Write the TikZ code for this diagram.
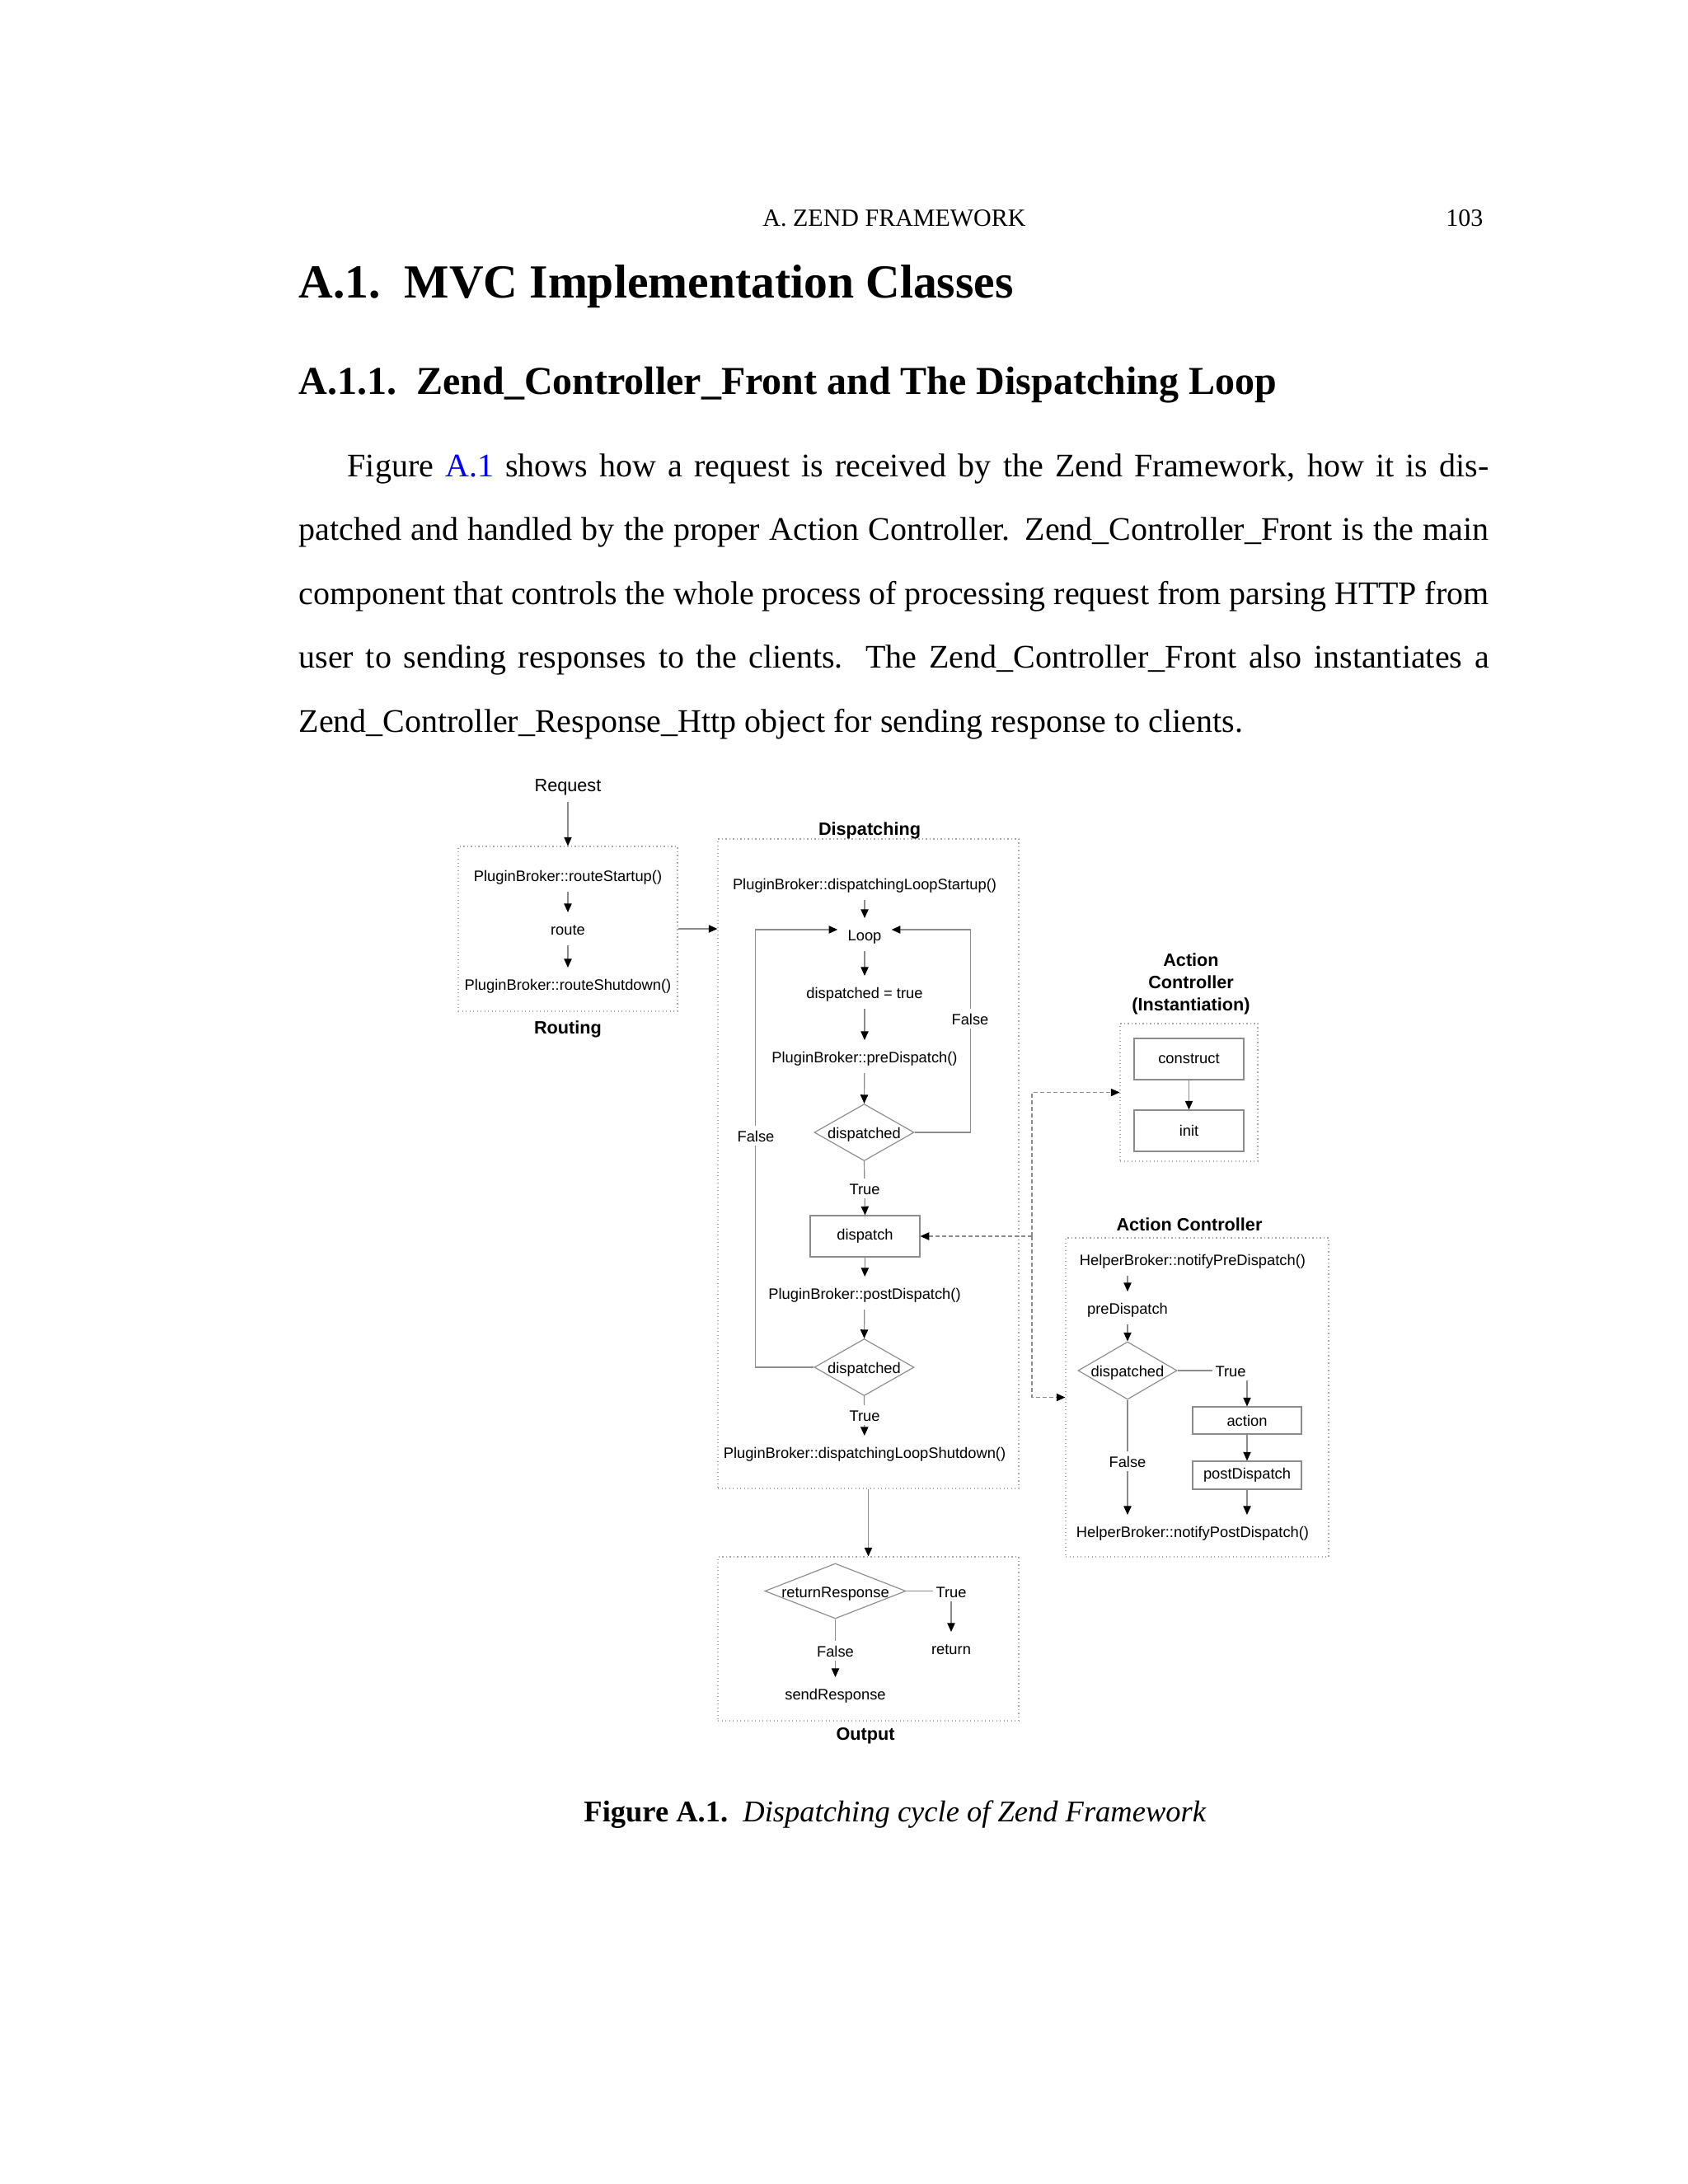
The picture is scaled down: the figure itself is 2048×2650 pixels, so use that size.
\documentclass[tikz,border=0pt]{standalone}
\usepackage{fontspec}
\setmainfont{Liberation Serif}
\newfontfamily\dsans{Liberation Sans}
\usetikzlibrary{arrows.meta,shapes.geometric}
\newdimen\pxu \pxu=0.3pt
\newcommand\dfont{\dsans\fontsize{5.5}{6.6}\selectfont}
\newcommand\dbfont{\dsans\bfseries\fontsize{6.5}{8}\selectfont}
\newcommand\dreq{\dsans\fontsize{6.5}{8}\selectfont}
\definecolor{lngray}{HTML}{8C8C8C}
\definecolor{grpgray}{HTML}{A8A8A8}
\definecolor{linkblue}{HTML}{0000FF}
\begin{document}
\begin{tikzpicture}[x=0.3pt,y=-0.3pt,
  txt/.style={font=\dfont, inner xsep=1pt, inner ysep=3.2pt, text height=4.9pt, text depth=0.3pt},
  lbl/.style={txt, fill=white, inner ysep=1pt},
  ttl/.style={font=\dbfont, align=center, inner sep=0pt},
  grp/.style={draw=grpgray, densely dotted, line width=0.35pt, inner sep=0pt},
  bx/.style={draw=lngray, line width=0.35pt, inner sep=0pt, font=\dfont},
  dia/.style={diamond, draw=lngray, line width=0.35pt, inner sep=0pt},
  ln/.style={draw=lngray, line width=0.35pt},
  arr/.style={ln, -{Triangle[length=3.2pt,width=2.8pt,color=black]}},
  dsh/.style={arr, dash pattern=on 1.5pt off 0.9pt},
  ptxt/.style={inner sep=0pt, anchor=base west, font=\fontsize{12}{14}\selectfont}
]
\fill[white] (0,0) rectangle (2048,2650);
\useasboundingbox (0,0) rectangle (2048,2650);

% ---------- page text ----------
\node[inner sep=0pt, anchor=base, font=\fontsize{9}{11}\selectfont] (hdr) at (1085,274) {A. ZEND FRAMEWORK};
\node[inner sep=0pt, anchor=base east, font=\fontsize{9}{11}\selectfont] (pg) at (1800,274) {103};
\node[inner sep=0pt, anchor=base west, font=\fontsize{17.28}{21}\selectfont\bfseries] (h1) at (362,361) {A.1.\enspace MVC Implementation Classes};
\node[inner sep=0pt, anchor=base west, font=\fontsize{14.4}{17}\selectfont\bfseries] (h2) at (362,478) {A.1.1.\enspace Zend\_Controller\_Front and The Dispatching Loop};
\node[ptxt] (p1) at (421,578) {\hbox to 415.5pt{Figure \textcolor{linkblue}{A.1} shows how a request is received by the Zend Framework, how it is dis-}};
\node[ptxt] (p2) at (362,655) {\hbox to 433.2pt{patched and handled by the proper Action Controller. Zend\_Controller\_Front is the main}};
\node[ptxt] (p3) at (362,733) {\hbox to 433.2pt{component that controls the whole process of processing request from parsing HTTP from}};
\node[ptxt] (p4) at (362,810) {\hbox to 433.2pt{user to sending responses to the clients. The Zend\_Controller\_Front also instantiates a}};
\node[ptxt] (p5) at (362,888) {Zend\_Controller\_Response\_Http object for sending response to clients.};
\node[inner sep=0pt, anchor=base, font=\fontsize{10.95}{13}\selectfont] (cap) at (1086,2210) {\textbf{Figure A.1.}\enspace\textit{Dispatching cycle of Zend Framework}};

% ---------- Routing ----------
\node[grp, minimum width=266\pxu, minimum height=200\pxu] (rt) at (689,1127) {};
\node[txt, font=\dreq] (req) at (689,953) {Request};
\node[txt] (rs) at (689,1062) {PluginBroker::routeStartup()};
\node[txt] (route) at (689,1127) {route};
\node[txt] (rsd) at (689,1194) {PluginBroker::routeShutdown()};
\node[ttl] (rtt) at (689,1249) {Routing};
\draw[arr] (req) -- (rt.north);
\draw[arr] (rs) -- (route);
\draw[arr] (route) -- (rsd);

% ---------- Dispatching ----------
\node[grp, minimum width=365\pxu, minimum height=788\pxu] (dp) at (1053.5,1412) {};
\node[ttl] (dpt) at (1055,1008) {Dispatching};
\draw[arr] (rt.east) -- (rt.east -| dp.west);
\node[txt] (dls) at (1049,1072) {PluginBroker::dispatchingLoopStartup()};
\node[txt, inner xsep=3.5pt] (loop) at (1049,1134) {Loop};
\node[txt] (dtrue) at (1049,1204) {dispatched = true};
\node[txt] (pre) at (1049,1282) {PluginBroker::preDispatch()};
\node[dia, minimum width=121\pxu, minimum height=69\pxu] (d1) at (1048.5,1374) {};
\node[txt] (d1t) at (d1) {dispatched};
\node[bx, minimum width=133\pxu, minimum height=50\pxu] (disp) at (1049.5,1500) {dispatch};
\node[txt] (post) at (1049,1569) {PluginBroker::postDispatch()};
\node[dia, minimum width=121\pxu, minimum height=69\pxu] (d2) at (1048.5,1659) {};
\node[txt] (d2t) at (d2) {dispatched};
\node[txt] (dlsd) at (1049,1762) {PluginBroker::dispatchingLoopShutdown()};
\draw[arr] (dls) -- (loop);
\draw[arr] (loop) -- (dtrue);
\draw[arr] (dtrue) -- (pre);
\draw[arr] (pre) -- (d1.north);
\draw[arr] (d1.south) -- (disp.north);
\draw[arr] (disp.south) -- (post);
\draw[arr] (post) -- (d2.north);
\draw[arr] (d2.south) -- (dlsd);
\draw[arr] (d1.east) -- ++(68,0) |- ([yshift=1.8pt]loop.east);
\draw[arr] (d2.west) -- ++(-71,0) |- ([yshift=1.8pt]loop.west);
\node[lbl] (t1) at (1049,1442) {True};
\node[lbl] (t2) at (1049,1717) {True};
\node[lbl] (f1) at (1177,1236) {False};
\node[lbl] (f2) at (917,1378) {False};

% ---------- Action Controller (Instantiation) ----------
\node[ttl] (acit) at (1445,1194) {Action\\Controller\\(Instantiation)};
\node[grp, minimum width=167\pxu, minimum height=167\pxu] (aci) at (1442.5,1325.5) {};
\node[bx, minimum width=133\pxu, minimum height=50\pxu] (cons) at (1442.5,1285) {construct};
\node[bx, minimum width=133\pxu, minimum height=50\pxu] (init) at (1442.5,1372) {init};
\draw[arr] (cons) -- (init);

% ---------- Action Controller ----------
\node[ttl] (actt) at (1443,1486) {Action Controller};
\node[grp, minimum width=319\pxu, minimum height=387\pxu] (ac) at (1452.5,1695.5) {};
\node[txt] (hpre) at (1447,1528) {HelperBroker::notifyPreDispatch()};
\node[txt] (pred) at (1368,1587) {preDispatch};
\node[dia, minimum width=120\pxu, minimum height=70\pxu] (d3) at (1368,1663) {};
\node[txt] (d3t) at (d3) {dispatched};
\node[bx, minimum width=132\pxu, minimum height=33\pxu] (actn) at (1513,1723.5) {action};
\node[bx, minimum width=132\pxu, minimum height=34\pxu] (pd) at (1513,1790) {postDispatch};
\node[txt] (hpost) at (1447,1858) {HelperBroker::notifyPostDispatch()};
\draw[arr] (hpre.south -| pred.north) -- (pred.north);
\draw[arr] (pred) -- (d3.north);
\draw[arr] (d3.east) -| (actn.north);
\draw[arr] (actn) -- (pd);
\draw[arr] (pd.south) -- (pd.south |- hpost.north);
\draw[arr] (d3.south) -- (d3.south |- hpost.north);
\node[lbl] (t3) at (1493,1663) {True};
\node[lbl] (f3) at (1368,1773) {False};

% ---------- dashed links ----------
\coordinate (jn) at (1252,1500);
\draw[dsh] (jn) -- (jn -| disp.east);
\draw[dsh] (jn) |- (aci.west);
\draw[dsh] (jn) |- (ac.west);

% ---------- Output ----------
\node[grp, minimum width=365\pxu, minimum height=199\pxu] (out) at (1053.5,1988.5) {};
\draw[arr] (dp.south) -- (out.north);
\node[dia, minimum width=171\pxu, minimum height=67\pxu] (d4) at (1013.5,1930.5) {};
\node[txt] (d4t) at (d4) {returnResponse};
\node[txt] (ret) at (1154,2000) {return};
\node[txt] (send) at (1013.5,2055) {sendResponse};
\draw[arr] (d4.east) -| (ret.north);
\draw[arr] (d4.south) -- (send.north);
\node[lbl] (t4) at (1154,1931) {True};
\node[lbl] (f4) at (1013.5,2003) {False};
\node[ttl] (outt) at (1050,2106) {Output};
\end{tikzpicture}
\end{document}
